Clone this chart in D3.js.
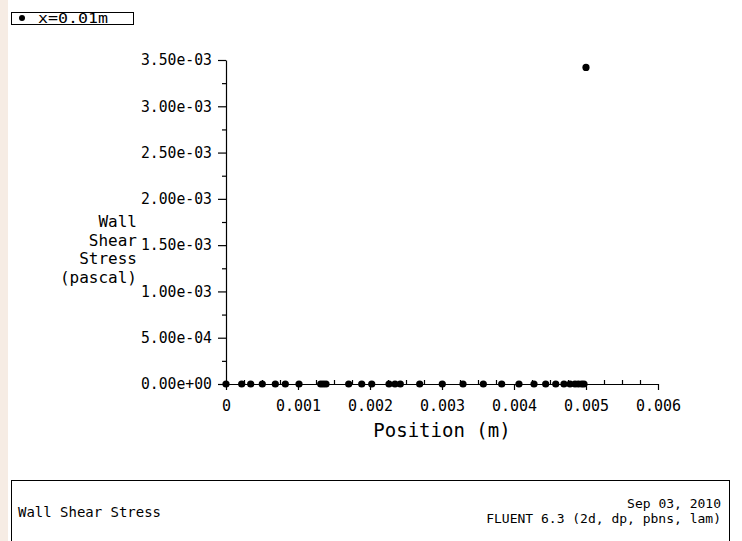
<!DOCTYPE html>
<html>
<head>
<meta charset="utf-8">
<script src="https://cdn.jsdelivr.net/npm/d3@7"></script>
<style>
  html, body { margin: 0; padding: 0; background: #fff; }
  svg { display: block; }
  text { font-family: "DejaVu Sans Mono", "Liberation Mono", monospace; fill: #000; }
</style>
</head>
<body>
<svg id="chart" width="742" height="541"></svg>
<script>
// ---- data ----
const positions = [0, 0.000218, 0.000343, 0.000504, 0.000685, 0.000824, 0.001014,
  0.001315, 0.001351, 0.001389, 0.001704, 0.001885, 0.002024, 0.002264, 0.002347,
  0.002421, 0.00269, 0.003004, 0.003292, 0.003574, 0.003829, 0.004069, 0.004278,
  0.00444, 0.00458, 0.004694, 0.004778, 0.004847, 0.004893, 0.00494, 0.004972, 0.005];
const shearStress = [0, 0, 0, 0, 0, 0, 0, 0, 0, 0, 0, 0, 0, 0, 0, 0, 0, 0, 0, 0, 0, 0, 0,
  0, 0, 0, 0, 0, 0, 0, 0, 0.00342];
const xTickValues = [0, 0.001, 0.002, 0.003, 0.004, 0.005, 0.006];
const xTickLabels = ["0", "0.001", "0.002", "0.003", "0.004", "0.005", "0.006"];
const yTickValues = [0, 0.0005, 0.001, 0.0015, 0.002, 0.0025, 0.003, 0.0035];
const yTickLabels = ["0.00e+00", "5.00e-04", "1.00e-03", "1.50e-03", "2.00e-03", "2.50e-03", "3.00e-03", "3.50e-03"];
const yMinorValues = [0.00025, 0.00075, 0.00125, 0.00175, 0.00225, 0.00275, 0.00325];
const xMinorValues = [0.00025, 0.0005, 0.00075, 0.00125, 0.0015, 0.00175, 0.00225, 0.0025, 0.00275,
  0.00325, 0.0035, 0.00375, 0.00425, 0.0045, 0.00475, 0.00525, 0.0055, 0.00575];
const yTitleLines = ["Wall", "Shear", "Stress", "(pascal)"];
const xTitle = "Position (m)";
const legendLabel = "x=0.01m";
const footerLeft = "Wall Shear Stress";
const footerRight = ["Sep 03, 2010", "FLUENT 6.3 (2d, dp, pbns, lam)"];

// ---- layout ----
const svg = d3.select("#chart");
const x0 = 226, x1 = 658, yTop = 60, yBot = 384;

// faint background tint on left edge (watermark)
svg.append("rect").attr("x", 0).attr("y", 0).attr("width", 8).attr("height", 541)
  .attr("fill", "#f6ece4");

const x = d3.scaleLinear().domain([0, 0.006]).range([x0, x1]);
const y = d3.scaleLinear().domain([0, 0.0035]).range([yBot, yTop]);

// Y axis
const yAxis = d3.axisLeft(y).tickValues(yTickValues)
  .tickFormat((d, i) => yTickLabels[i]).tickSize(8).tickSizeOuter(0).tickPadding(6);
const gy = svg.append("g").attr("transform", `translate(${x0},0)`).call(yAxis);
gy.selectAll("text").style("font-size", "15px").attr("textLength", 71)
  .attr("lengthAdjust", "spacingAndGlyphs");
const gyMinor = svg.append("g").attr("transform", `translate(${x0},0)`)
  .call(d3.axisLeft(y).tickValues(yMinorValues).tickFormat("").tickSize(4));
gyMinor.select(".domain").remove();

// X axis
const xAxis = d3.axisBottom(x).tickValues(xTickValues)
  .tickFormat((d, i) => xTickLabels[i]).tickSize(6).tickSizeOuter(0).tickPadding(10);
const gx = svg.append("g").attr("transform", `translate(0,${yBot})`).call(xAxis);
gx.selectAll("text").style("font-size", "15px");
const gxMinor = svg.append("g").attr("transform", `translate(0,${yBot})`)
  .call(d3.axisTop(x).tickValues(xMinorValues).tickFormat("").tickSize(4));
gxMinor.select(".domain").remove();

svg.selectAll(".domain, .tick line").attr("stroke", "#000").attr("stroke-width", 1.2);
svg.selectAll(".tick text").attr("fill", "#000");

// points
svg.append("g").selectAll("circle").data(positions).join("circle")
  .attr("cx", d => x(d))
  .attr("cy", (d, i) => y(shearStress[i]))
  .attr("r", 3.6)
  .attr("fill", "#000");

// axis titles
svg.append("text").attr("x", 442).attr("y", 437)
  .attr("text-anchor", "middle").style("font-size", "19px").text(xTitle);

svg.append("g").selectAll("text").data(yTitleLines).join("text")
  .attr("x", 137).attr("y", (d, i) => 227 + i * 18.5)
  .attr("text-anchor", "end").style("font-size", "16px").text(d => d);

// legend
svg.append("rect").attr("x", 11.5).attr("y", 12.5).attr("width", 122).attr("height", 12)
  .attr("fill", "#fff").attr("stroke", "#000").attr("stroke-width", 1);
svg.append("circle").attr("cx", 22).attr("cy", 18).attr("r", 3).attr("fill", "#000");
svg.append("text").attr("x", 38).attr("y", 23).style("font-size", "14px")
  .attr("textLength", 70).attr("lengthAdjust", "spacingAndGlyphs").text(legendLabel);

// footer box
svg.append("rect").attr("x", 11.5).attr("y", 480.5).attr("width", 718).attr("height", 80)
  .attr("fill", "#fff").attr("stroke", "#000").attr("stroke-width", 1);
svg.append("text").attr("x", 18).attr("y", 517).style("font-size", "14px")
  .attr("textLength", 143).attr("lengthAdjust", "spacingAndGlyphs").text(footerLeft);
svg.append("g").selectAll("text").data(footerRight).join("text")
  .attr("x", 721).attr("y", (d, i) => 508 + i * 15)
  .attr("text-anchor", "end").style("font-size", "13px").text(d => d);
</script>
</body>
</html>
